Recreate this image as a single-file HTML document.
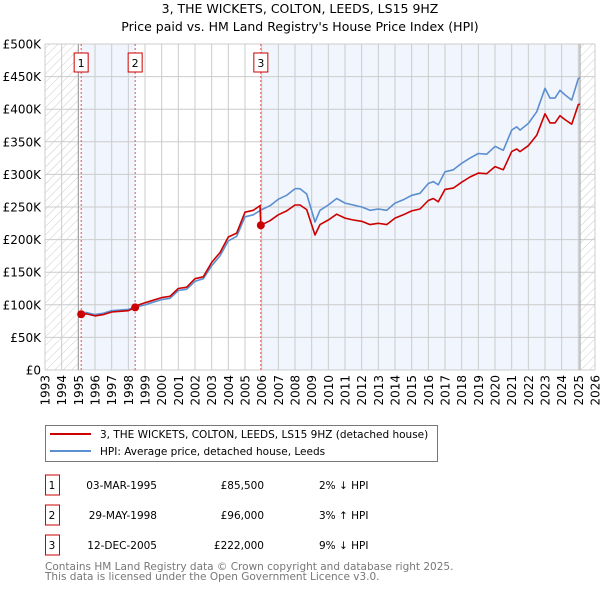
<!DOCTYPE html>
<html><head><meta charset="utf-8"><style>
body{margin:0;background:#fff;font-family:"DejaVu Sans","Liberation Sans",sans-serif}
svg text{font-family:"DejaVu Sans","Liberation Sans",sans-serif}
</style></head><body>
<svg id="c" width="600" height="590" xmlns="http://www.w3.org/2000/svg">
<defs><pattern id="hatch" width="6" height="6" patternUnits="userSpaceOnUse" patternTransform="rotate(45)"><line x1="0" y1="0" x2="0" y2="6" stroke="#ccc" stroke-width="1"/></pattern></defs>
<text x="300" y="13" text-anchor="middle" font-size="12.5">3, THE WICKETS, COLTON, LEEDS, LS15 9HZ</text>
<text x="300" y="31" text-anchor="middle" font-size="12.5">Price paid vs. HM Land Registry's House Price Index (HPI)</text>
<g id="plot"></g>
<g>
<rect x="45.5" y="425.5" width="392" height="36" fill="#fff" stroke="#777"/>
<line x1="50" y1="434" x2="91" y2="434" stroke="#cc0000" stroke-width="2"/>
<text x="100" y="438" font-size="10.5">3, THE WICKETS, COLTON, LEEDS, LS15 9HZ (detached house)</text>
<line x1="50" y1="451" x2="91" y2="451" stroke="#5b8fd0" stroke-width="2"/>
<text x="100" y="455" font-size="10.5">HPI: Average price, detached house, Leeds</text>
</g>
<g id="table" font-size="10.5"></g>
<text x="45" y="570" font-size="10.5" fill="#777">Contains HM Land Registry data © Crown copyright and database right 2025.</text>
<text x="45" y="580" font-size="10.5" fill="#777">This data is licensed under the Open Government Licence v3.0.</text>
</svg>
<script>
const hpiYears=[1995.1,1995.5,1996,1996.5,1997,1997.5,1998,1998.5,1999,1999.5,2000,2000.5,2001,2001.5,2002,2002.5,2003,2003.5,2004,2004.5,2005,2005.5,2006,2006.5,2007,2007.5,2008,2008.3,2008.7,2009.2,2009.5,2010,2010.5,2011,2011.5,2012,2012.5,2013,2013.5,2014,2014.5,2015,2015.5,2016,2016.3,2016.6,2017,2017.5,2018,2018.5,2019,2019.5,2020,2020.5,2021,2021.3,2021.5,2022,2022.5,2023,2023.3,2023.6,2023.9,2024.2,2024.6,2025,2025.1];
const hpiValues=[88,88,85,87,91,92,93,97,100,104,108,110,122,124,136,140,160,175,198,205,235,238,246,252,262,268,278,278,270,227,245,253,263,256,253,250,245,247,245,256,261,268,271,286,289,284,304,307,317,325,332,331,343,337,368,373,368,378,396,432,417,417,429,422,414,447,448];
const priceYears=[1995.17,1995.5,1996,1996.5,1997,1997.5,1998,1998.4,1998.5,1999,1999.5,2000,2000.5,2001,2001.5,2002,2002.5,2003,2003.5,2004,2004.5,2005,2005.5,2005.9,2005.95,2006.5,2007,2007.5,2008,2008.3,2008.7,2009.2,2009.5,2010,2010.5,2011,2011.5,2012,2012.5,2013,2013.5,2014,2014.5,2015,2015.5,2016,2016.3,2016.6,2017,2017.5,2018,2018.5,2019,2019.5,2020,2020.5,2021,2021.3,2021.5,2022,2022.5,2023,2023.3,2023.6,2023.9,2024.2,2024.6,2025,2025.1];
const priceValues=[85.5,86,83,85,89,90,91,96,99,103,107,111,113,125,127,140,143,165,180,204,210,242,245,252,222,229,238,244,253,253,246,207,223,230,239,233,230,228,223,225,223,233,238,244,247,260,263,258,277,279,288,296,302,301,312,307,335,339,335,344,360,393,379,379,390,384,377,407,408];
const saleYears=[1995.17,1998.41,2005.95];
const saleValues=[85.5,96,222];
const saleLabels=["1","2","3"];
const saleDates=["03-MAR-1995","29-MAY-1998","12-DEC-2005"];
const salePrices=["£85,500","£96,000","£222,000"];
const saleDiffs=["2% ↓ HPI","3% ↑ HPI","9% ↓ HPI"];
const yTicks=[0,50,100,150,200,250,300,350,400,450,500];
const yTickLabels=["£0","£50K","£100K","£150K","£200K","£250K","£300K","£350K","£400K","£450K","£500K"];
const xTicks=[1993,1994,1995,1996,1997,1998,1999,2000,2001,2002,2003,2004,2005,2006,2007,2008,2009,2010,2011,2012,2013,2014,2015,2016,2017,2018,2019,2020,2021,2022,2023,2024,2025,2026];

const NS="http://www.w3.org/2000/svg";
const X0=45,X1=595,Y0=370,Y1=44,XMIN=1993,XMAX=2026;
const xs=v=>X0+(v-XMIN)/(XMAX-XMIN)*(X1-X0);
const ys=v=>Y0-v/500*(Y0-Y1);
const plot=document.getElementById('plot');
function mk(t,a,p){const e=document.createElementNS(NS,t);for(const k in a)e.setAttribute(k,a[k]);(p||plot).appendChild(e);return e;}
const dataEnd=2025.1;
let r;
r=mk('rect',{x:X0,y:Y1,width:X1-X0,height:Y0-Y1,fill:'#fff'});


r=mk('rect',{x:xs(saleYears[0]),y:Y1,width:xs(saleYears[1])-xs(saleYears[0]),height:Y0-Y1,fill:'#f1f5fd'});


r=mk('rect',{x:xs(saleYears[2]),y:Y1,width:xs(dataEnd)-xs(saleYears[2]),height:Y0-Y1,fill:'#f1f5fd'});


r=mk('rect',{x:X0,y:Y1,width:xs(1995)-X0,height:Y0-Y1,fill:'url(#hatch)'});


r=mk('rect',{x:xs(dataEnd),y:Y1,width:X1-xs(dataEnd),height:Y0-Y1,fill:'url(#hatch)'});


yTicks.forEach((t,i)=>{
  const l=mk('line',{x1:X0,x2:X1,y1:ys(t),y2:ys(t),stroke:'#ccc','stroke-width':1});
  
  
  const tx=mk('text',{x:X0-4,y:ys(t)+4.5,'text-anchor':'end','font-size':12});
  tx.textContent=yTickLabels[i];
  
  
});
xTicks.forEach(t=>{
  const l=mk('line',{x1:xs(t),x2:xs(t),y1:Y1,y2:Y0,stroke:'#ccc','stroke-width':1});
  
  
  const tx=mk('text',{x:0,y:0,'text-anchor':'end','font-size':12,transform:`translate(${xs(t)+4.5},${Y0+5}) rotate(-90)`});
  tx.textContent=t;
  
  
});
r=mk('line',{x1:xs(1995),x2:xs(1995),y1:Y1,y2:Y0,stroke:'#999','stroke-width':1});


r=mk('line',{x1:xs(dataEnd),x2:xs(dataEnd),y1:Y1,y2:Y0,stroke:'#999','stroke-width':1});


saleYears.forEach((y,i)=>{
  const l=mk('line',{x1:xs(y),x2:xs(y),y1:Y1,y2:Y0,stroke:'#e05050','stroke-width':1,'stroke-dasharray':'2,2'});
  
  
  const b=mk('rect',{x:xs(y)-7,y:53,width:14,height:19,fill:'#fff',stroke:'#cc0000'});
  
  
  const tx=mk('text',{x:xs(y),y:67,'text-anchor':'middle','font-size':11});
  tx.textContent=saleLabels[i];
  
  
});
const pts=(xa,va)=>xa.map((x,i)=>xs(x).toFixed(1)+','+ys(va[i]).toFixed(1)).join(' ');
r=mk('polyline',{points:pts(hpiYears,hpiValues),fill:'none',stroke:'#5b8fd0','stroke-width':1.6,'stroke-linejoin':'round'});


r=mk('polyline',{points:pts(priceYears,priceValues),fill:'none',stroke:'#cc0000','stroke-width':1.6,'stroke-linejoin':'round'});


saleYears.forEach((y,i)=>{
  const c=mk('circle',{cx:xs(y),cy:ys(saleValues[i]),r:4,fill:'#cc0000'});
  
  
});
const tb=document.getElementById('table');
saleLabels.forEach((s,i)=>{
  const y=485+i*30;
  const b=mk('rect',{x:45.5,y:y-10,width:14,height:20,fill:'#fff',stroke:'#cc0000'},tb);
  
  
  const vals=[[s,52,'middle'],[saleDates[i],157,'end'],[salePrices[i],264,'end'],[saleDiffs[i],319,'start']];
  vals.forEach(v=>{
    const t=mk('text',{x:v[1],y:y+4,'text-anchor':v[2]},tb);
    t.textContent=v[0];
    
    
  });
});
</script>
</body></html>
